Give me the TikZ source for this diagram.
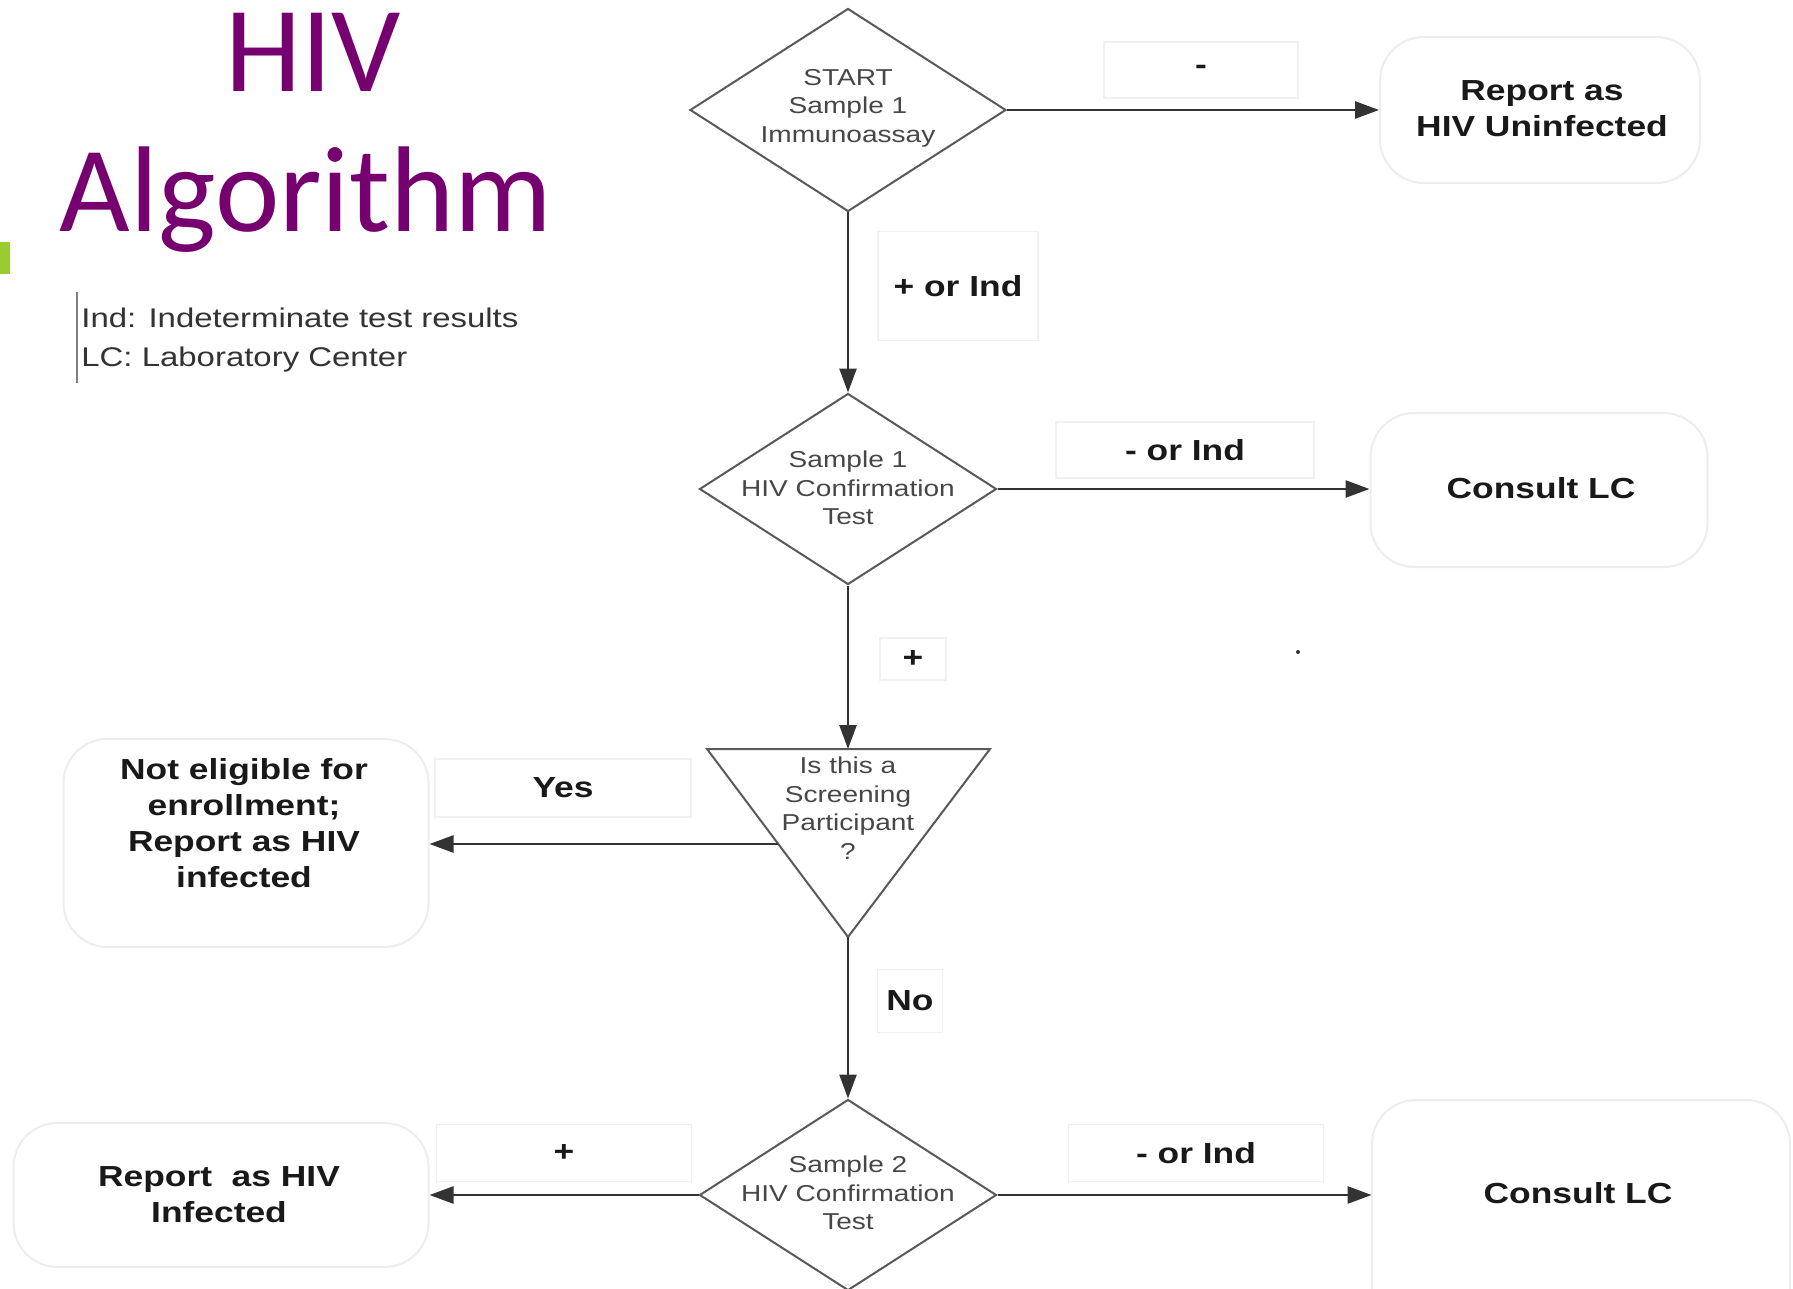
\documentclass[tikz,border=0pt]{standalone}
\usepackage{fontspec}
\setmainfont{Liberation Sans}
\newfontfamily\fc[FakeStretch=1.22]{Liberation Sans}
\newfontfamily\titlefont{Carlito}
\usetikzlibrary{shapes.geometric,arrows.meta}
\definecolor{titlepurple}{RGB}{118,0,112}
\definecolor{bargreen}{RGB}{153,204,51}
\begin{document}
\begin{tikzpicture}[x=0.5pt,y=-0.5pt,
  conn/.style={draw=black!80,line width=1.3pt,-{Triangle[length=12pt,width=8.5pt]}},
  dia/.style={diamond,draw=black!65,line width=1pt,inner sep=0pt},
  dtext/.style={font=\fc\fontsize{11.5}{14.25}\selectfont,text=black!72,align=center,inner sep=0pt},
  outbox/.style={rectangle,rounded corners=22pt,draw=black!7,line width=1pt,inner sep=0pt},
  btext/.style={font=\fc\bfseries\fontsize{14.5}{18}\selectfont,text=black!90,align=center,inner sep=0pt},
  lbl/.style={rectangle,draw=black!6,line width=0.8pt,inner sep=0pt,font=\fc\bfseries\fontsize{14.5}{18}\selectfont,text=black!90},
  legtext/.style={font=\fc\fontsize{13.5}{19}\selectfont,text=black!80,anchor=base west,inner sep=0pt},
  ttl/.style={font=\titlefont\fontsize{61}{61}\selectfont,text=titlepurple,anchor=base,inner sep=0pt}
]
\fill[white] (0,0) rectangle (1793,1289);
\useasboundingbox (0,0) rectangle (1793,1289);

% title
\node[ttl] (t1) at (313,92) {HIV};
\node[ttl] (t2) at (306,232) {Algorithm};
\fill[bargreen] (0,242) rectangle (10,274);

% legend
\draw[black!50,line width=0.8pt] (77,292) -- (77,383);
\node[legtext] (leg1) at (81,328) {Ind: Indeterminate test results};
\node[legtext] (leg2) at (81,366) {LC: Laboratory Center};

% decision shapes
\node[dia,minimum width=158pt,minimum height=101.5pt] (d1) at (848,110) {};
\node[dtext] (d1t) at (848,108) {START\\Sample 1\\Immunoassay};
\node[dia,minimum width=148.5pt,minimum height=95.5pt] (d2) at (848,489) {};
\node[dtext] (d2t) at (848,488) {Sample 1\\HIV Confirmation\\Test};
\node[dia,minimum width=148.5pt,minimum height=95.5pt] (d3) at (848,1195) {};
\node[dtext] (d3t) at (848,1193) {Sample 2\\HIV Confirmation\\Test};

\coordinate (triTL) at (707,749);
\coordinate (triTR) at (990,749);
\coordinate (triB) at (848,937);
\coordinate (triT) at (848,749);
\coordinate (triL) at (778,844);
\draw[black!65,line width=1pt,line join=miter] (triTL) -- (triTR) -- (triB) -- cycle;
\node[dtext] (trit) at (848,808) {Is this a\\Screening\\Participant\\?};

% outcome boxes
\node[outbox,minimum width=160pt,minimum height=73pt] (rep1) at (1540,110) {};
\node[btext] (rep1t) at (1542,109) {Report as\\HIV Uninfected};
\node[outbox,minimum width=168.5pt,minimum height=77pt] (lc1) at (1539,490) {};
\node[btext] (lc1t) at (1541,488) {Consult LC};
\node[outbox,minimum width=182.5pt,minimum height=104pt] (notel) at (246,843) {};
\node[btext] (notelt) at (244,823) {Not eligible for\\enrollment;\\Report as HIV\\infected};
\node[outbox,minimum width=207.5pt,minimum height=72pt] (repinf) at (221,1195) {};
\node[btext] (repinft) at (219,1195) {Report\ \ as HIV\\Infected};
\node[inner sep=0pt,minimum width=209pt,minimum height=95pt] (lc2) at (1581,1194) {};
\draw[draw=black!7,line width=1pt,rounded corners=22pt] (1372,1295) -- (1372,1100) -- (1790,1100) -- (1790,1295);
\node[btext] (lc2t) at (1578,1193) {Consult LC};

% labels
\node[lbl,minimum width=97pt,minimum height=28pt] (la) at (1201,70) {-};
\node[lbl,minimum width=80pt,minimum height=54.5pt] (lb) at (958,286) {+ or Ind};
\node[lbl,minimum width=129pt,minimum height=28pt] (lcl) at (1185,450) {- or Ind};
\node[lbl,minimum width=33pt,minimum height=21pt] (ld) at (913,659) {+};
\node[lbl,minimum width=128pt,minimum height=29pt] (le) at (563,788) {Yes};
\node[lbl,minimum width=32.5pt,minimum height=31.5pt] (lf) at (910,1001) {No};
\node[lbl,minimum width=127.5pt,minimum height=28.5pt] (lg) at (564,1153) {+};
\node[lbl,minimum width=127.5pt,minimum height=28.5pt] (lh) at (1196,1153) {- or Ind};

% connectors
\draw[conn] (d1.east) -- (rep1.west);
\draw[conn] (d1.south) -- (d2.north);
\draw[conn] (d2.east) -- (d2.east -| lc1.west);
\draw[conn] (d2.south) -- (triT);
\draw[conn] (triL) -- (triL -| notel.east);
\draw[conn] (triB) -- (d3.north);
\draw[conn] (d3.west) -- (d3.west -| repinf.east);
\draw[conn] (d3.east) -- (d3.east -| lc2.west);

% stray dot
\fill[black!80] (1298,652) circle (1pt);
\end{tikzpicture}
\end{document}
